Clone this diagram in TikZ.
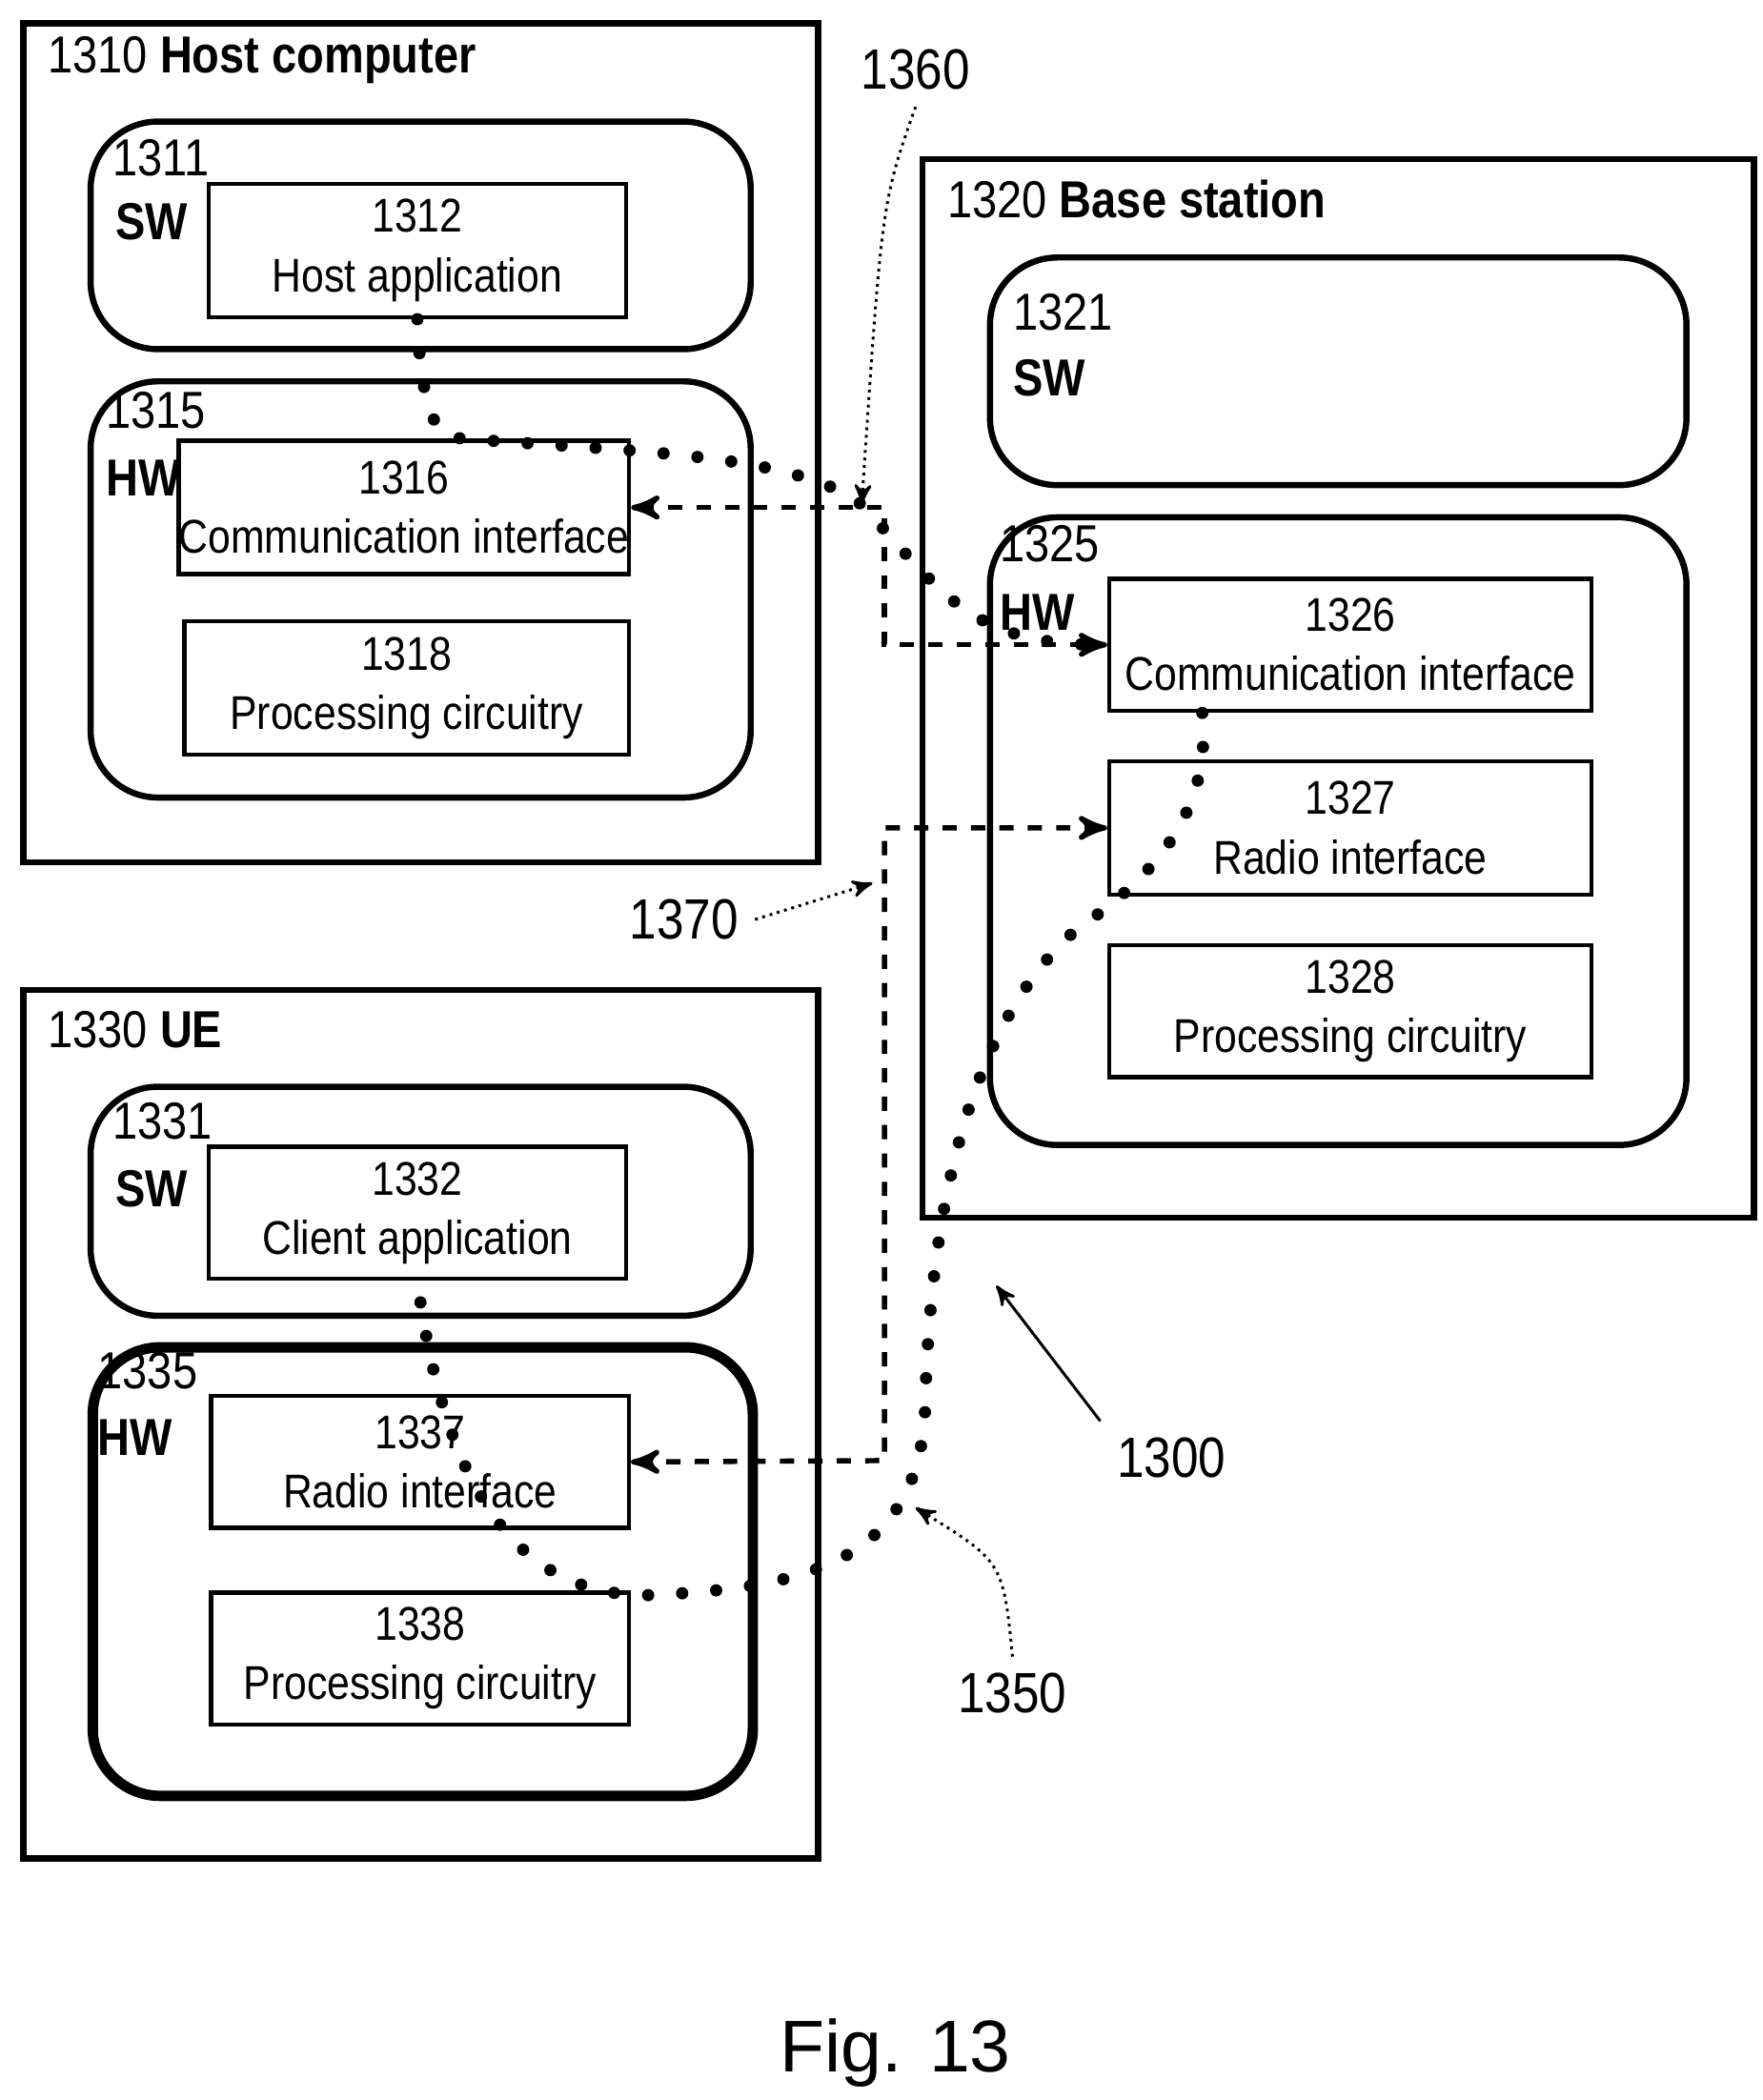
\documentclass[tikz,border=0pt]{standalone}
\usepackage{fontspec}
\setmainfont{Liberation Sans}[FakeStretch=0.86]
\newfontfamily\figfont{Liberation Sans}
\usetikzlibrary{arrows,positioning}

\begin{document}
\begin{tikzpicture}[x=0.01cm,y=-0.01cm,>=stealth',
        txt/.style={font=\fontsize{10}{12.5}\selectfont},
        lbl/.style={txt,anchor=west,inner sep=0pt},
        head/.style={lbl,font=\fontsize{11}{13}\selectfont},
        outer/.style={draw,line width=1.3pt,anchor=north west,inner sep=0pt},
        soft/.style={draw,line width=1.3pt,rounded corners=0.5cm,anchor=north west,inner sep=0pt},
        unit/.style={draw,line width=0.9pt,txt,align=center,inner sep=0pt},
        link/.style={dashed,line width=1.1pt,<->},
        flow/.style={line width=2.6pt,line cap=round,dash pattern=on 0pt off 7.2pt},
        ref/.style={densely dotted,line width=0.6pt,->}]
  \useasboundingbox (0,0) rectangle (1309,1560);

  % host computer
  \node[outer,minimum width=5.90cm,minimum height=6.23cm] (hc) at (15,15) {};
  \node[head] at (35,45) {1310 \textbf{Host computer}};
  \node[soft,minimum width=4.90cm,minimum height=1.69cm] (hsw) at (65,88) {};
  \node[head] at (83,117) {1311};
  \node[head] at (85,165) {\textbf{SW}};
  \node[unit,minimum width=3.10cm,minimum height=0.99cm] (1312) at (310,186) {1312\\Host application};
  \node[soft,minimum width=4.90cm,minimum height=3.09cm] (hhw) at (65,281) {};
  \node[head] at (78,305) {1315};
  \node[head] at (78,355) {\textbf{HW}};
  \node[unit,minimum width=3.29cm,minimum height=0.99cm] (1316) at (300,377) {1316\\Communication interface};
  \node[unit,minimum width=3.30cm,minimum height=0.99cm] (1318) at (302,511) {1318\\Processing circuitry};

  % base station
  \node[outer,minimum width=6.17cm,minimum height=7.86cm] (bs) at (683,116) {};
  \node[head] at (703,148) {1320 \textbf{Base station}};
  \node[soft,minimum width=5.17cm,minimum height=1.69cm] (bsw) at (733,189) {};
  \node[head] at (752,232) {1321};
  \node[head] at (752,281) {\textbf{SW}};
  \node[soft,minimum width=5.17cm,minimum height=4.66cm] (bhw) at (733,382) {};
  \node[head] at (742,404) {1325};
  \node[head] at (742,455) {\textbf{HW}};
  \node[unit,minimum width=3.58cm,minimum height=0.98cm] (1326) at (1003,479) {1326\\Communication interface};
  \node[unit,minimum width=3.58cm,minimum height=0.99cm] (1327) at (1003,615) {1327\\Radio interface};
  \node[unit,minimum width=3.58cm,minimum height=0.98cm] (1328) at (1003,751) {1328\\Processing circuitry};

  % UE
  \node[outer,minimum width=5.90cm,minimum height=6.45cm] (ue) at (15,733) {};
  \node[head] at (35,765) {1330 \textbf{UE}};
  \node[soft,minimum width=4.90cm,minimum height=1.70cm] (usw) at (65,805) {};
  \node[head] at (83,833) {1331};
  \node[head] at (85,883) {\textbf{SW}};
  \node[unit,minimum width=3.10cm,minimum height=0.98cm] (1332) at (310,901) {1332\\Client application};
  \node[soft,line width=2.2pt,minimum width=4.90cm,minimum height=3.33cm] (uhw) at (65,997) {};
  \node[head] at (72,1018) {1335};
  \node[head] at (72,1068) {\textbf{HW}};
  \node[unit,minimum width=3.10cm,minimum height=0.98cm] (1337) at (312,1086) {1337\\Radio interface};
  \node[unit,minimum width=3.10cm,minimum height=0.98cm] (1338) at (312,1232) {1338\\Processing circuitry};

  % connections
  \coordinate (c1) at (657,377);
  \coordinate (c2) at (657,479);
  \coordinate (c3) at (657,615);
  \coordinate (c4) at (657,1085);
  \draw[link] (1316.east) -- (c1) -- (c2) -- (1326.west);
  \draw[link] (1327.west) -- (c3) -- (c4) -- (1337.east);

  \draw[flow] (1312.south) .. controls (312,290) and (320,320) .. (335,325)
        .. controls (450,335) and (590,335) .. (640,375)
        .. controls (700,440) and (720,480) .. (1326.west);
  \draw[flow] (1326.south -| 893,0) .. controls (900,600) and (860,650) .. (800,690)
        .. controls (720,760) and (690,900) .. (687,1050)
        .. controls (680,1160) and (600,1180) .. (480,1185)
        .. controls (380,1185) and (330,1100) .. (1332.south);

  % reference numerals
  \node[font=\fontsize{12}{14}\selectfont] (n1360) at (680,52) {1360};
  \node[font=\fontsize{12}{14}\selectfont] (n1370) at (508,683) {1370};
  \node[font=\fontsize{12}{14}\selectfont] (n1300) at (870,1083) {1300};
  \node[font=\fontsize{12}{14}\selectfont] (n1350) at (752,1258) {1350};
  \coordinate (a1360) at (640,375);
  \coordinate (a1370) at (648,656);
  \coordinate (a1300) at (740,955);
  \coordinate (a1350) at (680,1120);
  \draw[ref] (n1360.south) .. controls (655,150) .. (a1360);
  \draw[ref] (n1370.east) -- (a1370);
  \draw[line width=0.6pt,->] (n1300.north west) -- (a1300);
  \draw[ref] (n1350.north) .. controls (745,1160) .. (a1350);

  \node[font=\figfont\fontsize{15.5}{19}\selectfont] (fig) at (665,1525) {Fig. 13};
\end{tikzpicture}
\end{document}
